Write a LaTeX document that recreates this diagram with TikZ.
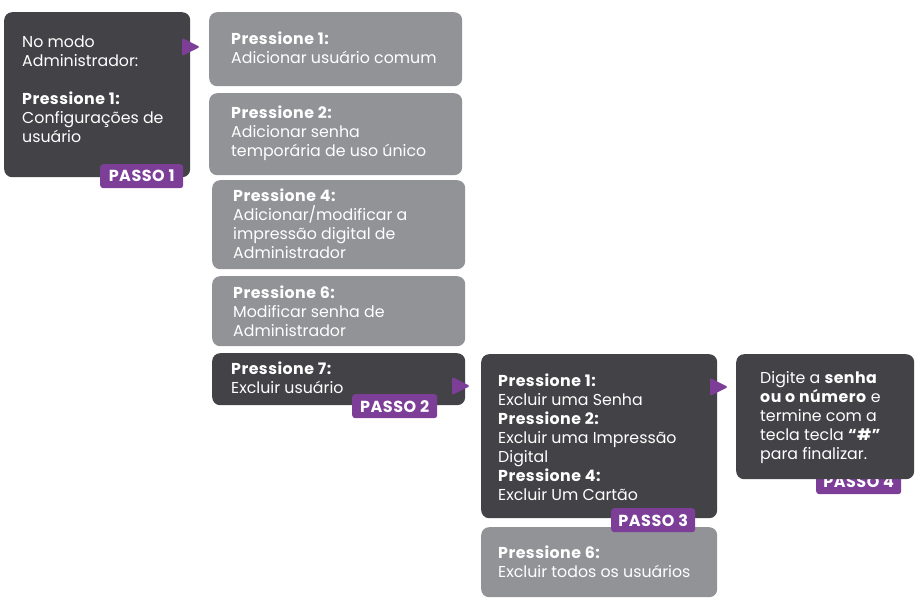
\documentclass[tikz,border=0pt]{standalone}
\usepackage{fontspec}
\setmainfont{Poppins}[BoldFeatures={LetterSpace=3}]
\definecolor{dk}{HTML}{434347}
\definecolor{gy}{HTML}{929397}
\definecolor{pp}{HTML}{7D3E98}
\begin{document}
\begin{tikzpicture}[x=1pt,y=-1pt,
  dkbox/.style={fill=dk,rounded corners=8pt,anchor=north west,inner sep=0pt},
  gybox/.style={fill=gy,rounded corners=8pt,anchor=north west,inner sep=0pt},
  txt/.style={anchor=north west,inner sep=0pt,align=left,text=white,font=\fontsize{15.8}{19}\selectfont},
  passo/.style={fill=pp,rounded corners=3pt,anchor=north west,inner sep=0pt,minimum width=84pt,minimum height=24pt,text=white,font=\fontsize{16}{16}\selectfont\bfseries},
  tri/.style={fill=pp,rounded corners=1.5pt}
]
\useasboundingbox (0,0) rectangle (923,601);
% step 1
\node[dkbox,minimum width=186pt,minimum height=165pt] (b1) at (4,12) {};
\node[txt] (t1) at (22,36) {No modo\\Administrador:\\[19pt]\textbf{Pressione 1:}\\Configurações de\\usuário};
\node[passo,minimum width=83pt] (p1) at (100,164) {PASSO 1};
\fill[tri] (182,38) -- (200,47) -- (182,56) -- cycle;
% column 2
\node[gybox,minimum width=253pt,minimum height=74pt] (bA) at (209,12) {};
\node[txt] (tA) at (231,32) {\textbf{Pressione 1:}\\Adicionar usuário comum};
\node[gybox,minimum width=253pt,minimum height=82pt] (bB) at (209,93) {};
\node[txt] (tB) at (231,106) {\textbf{Pressione 2:}\\Adicionar senha\\temporária de uso único};
\node[gybox,minimum width=253pt,minimum height=89pt] (bC) at (212,180) {};
\node[txt] (tC) at (233,189) {\textbf{Pressione 4:}\\Adicionar/modificar a\\impressão digital de\\Administrador};
\node[gybox,minimum width=253pt,minimum height=70pt] (bD) at (212,276) {};
\node[txt] (tD) at (233,286) {\textbf{Pressione 6:}\\Modificar senha de\\Administrador};
\node[dkbox,minimum width=253pt,minimum height=52pt] (bE) at (212,353) {};
\node[txt] (tE) at (231,362) {\textbf{Pressione 7:}\\Excluir usuário};
\node[passo,minimum width=85pt] (p2) at (352,394) {PASSO 2};
\fill[tri] (452,377) -- (470,386) -- (452,395) -- cycle;
% column 3
\node[dkbox,minimum width=236pt,minimum height=164pt] (bF) at (481,354) {};
\node[txt] (tF) at (498,374) {\textbf{Pressione 1:}\\Excluir uma Senha\\\textbf{Pressione 2:}\\Excluir uma Impressão\\Digital\\\textbf{Pressione 4:}\\Excluir Um Cartão};
\node[gybox,minimum width=236pt,minimum height=70pt] (bG) at (481,527) {};
\node[txt] (tG) at (498,546) {\textbf{Pressione 6:}\\Excluir todos os usuários};
\node[passo,minimum width=84pt] (p3) at (611,508) {PASSO 3};
\fill[tri] (710,378) -- (728,387) -- (710,396) -- cycle;
% column 4
\node[passo,minimum width=85pt] (p4) at (816,470) {PASSO 4};
\node[dkbox,minimum width=178pt,minimum height=125pt] (bH) at (736,354) {};
\node[txt] (tH) at (760,371) {Digite a \textbf{senha}\\\textbf{ou o número} e\\termine com a\\tecla tecla \textbf{“\#”}\\para finalizar.};
\end{tikzpicture}
\end{document}
